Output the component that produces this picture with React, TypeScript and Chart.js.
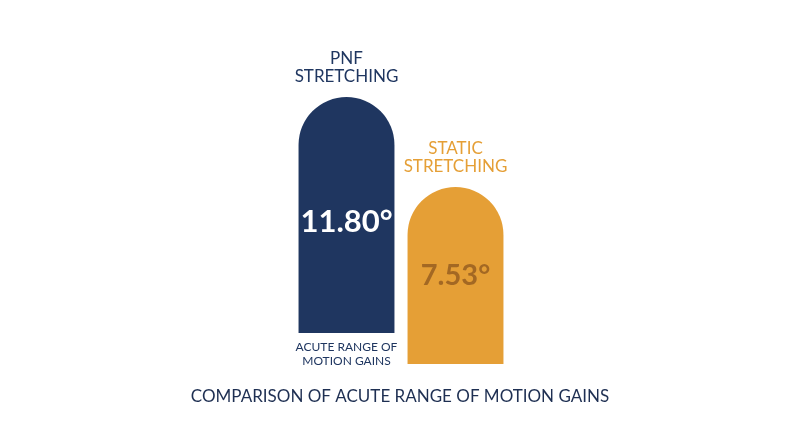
import React, { useRef, useEffect } from 'react';
import { Chart, registerables } from 'chart.js';

Chart.register(...registerables);

// data
const categories = [['PNF', 'STRETCHING'], ['STATIC', 'STRETCHING']];
const gains = [11.8, 7.53];
// the bars start at different heights in the infographic
const bases = [0.6, -0.87];
const valueLabels = ['11.80°', '7.53°'];
const captionLines = ['ACUTE RANGE OF', 'MOTION GAINS'];
const title = 'COMPARISON OF ACUTE RANGE OF MOTION GAINS';

const NAVY = '#1f3660';
const ORANGE = '#e59f36';

const labelsPlugin = {
  id: 'infoLabels',
  afterDatasetsDraw(chart: any) {
    const ctx = chart.ctx;
    const meta = chart.getDatasetMeta(0);
    ctx.save();
    ctx.textAlign = 'center';
    ctx.textBaseline = 'middle';
    meta.data.forEach((bar: any, i: number) => {
      const { x, y, base } = bar.getProps(['x', 'y', 'base'], true);
      // category name above the bar
      ctx.fillStyle = i === 0 ? NAVY : ORANGE;
      ctx.font = '17px Lato';
      const lines = categories[i];
      lines.forEach((line: string, j: number) => {
        ctx.fillText(line, x, y - 20 - (lines.length - 1 - j) * 18);
      });
      // value inside the bar
      ctx.font = i === 0 ? 'bold 31px Lato' : 'bold 29px Lato';
      ctx.fillStyle = i === 0 ? '#ffffff' : 'rgba(140, 85, 30, 0.75)';
      const ratio = i === 0 ? 0.53 : 0.5;
      ctx.fillText(valueLabels[i], x, y + (base - y) * ratio);
    });
    // caption under the first bar
    const first = meta.data[0].getProps(['x', 'base'], true);
    ctx.fillStyle = NAVY;
    ctx.font = '12px Lato';
    captionLines.forEach((line, j) => {
      ctx.fillText(line, first.x, first.base + 14 + j * 14);
    });
    // title at the bottom
    ctx.fillStyle = '#1e2f52';
    ctx.font = '17px Lato';
    ctx.fillText(title, chart.width / 2, 397);
    ctx.restore();
  },
};

const App = () => {
  const canvasRef = useRef<any>(null);
  const chartRef = useRef<any>(null);

  useEffect(() => {
    document.body.style.margin = '0';
    if (canvasRef.current) {
      const ctx = canvasRef.current.getContext('2d');

      if (chartRef.current) {
        chartRef.current.destroy();
      }

      chartRef.current = new Chart(ctx, {
        type: 'bar',
        data: {
          labels: categories.map((c) => c.join(' ')),
          datasets: [{
            data: gains.map((g, i) => [bases[i], g]) as any,
            backgroundColor: [NAVY, ORANGE],
            borderWidth: 0,
            borderRadius: { topLeft: 48, topRight: 48, bottomLeft: 0, bottomRight: 0 },
            borderSkipped: false,
            barPercentage: 0.88,
            categoryPercentage: 1,
          }],
        },
        options: {
          animation: false,
          responsive: true,
          maintainAspectRatio: false,
          layout: {
            padding: { left: 292, right: 290, top: 97, bottom: 83 },
          },
          plugins: {
            legend: { display: false },
            tooltip: { enabled: false },
          },
          scales: {
            x: { display: false },
            y: { display: false, min: -0.87, max: 11.8 },
          },
        },
        plugins: [labelsPlugin],
      });
    }

    return () => {
      if (chartRef.current) {
        chartRef.current.destroy();
      }
    };
  }, []);

  return (
    <div style={{ width: '800px', height: '447px', background: '#ffffff', position: 'relative' }}>
      <canvas ref={canvasRef} />
    </div>
  );
};

export default App;
